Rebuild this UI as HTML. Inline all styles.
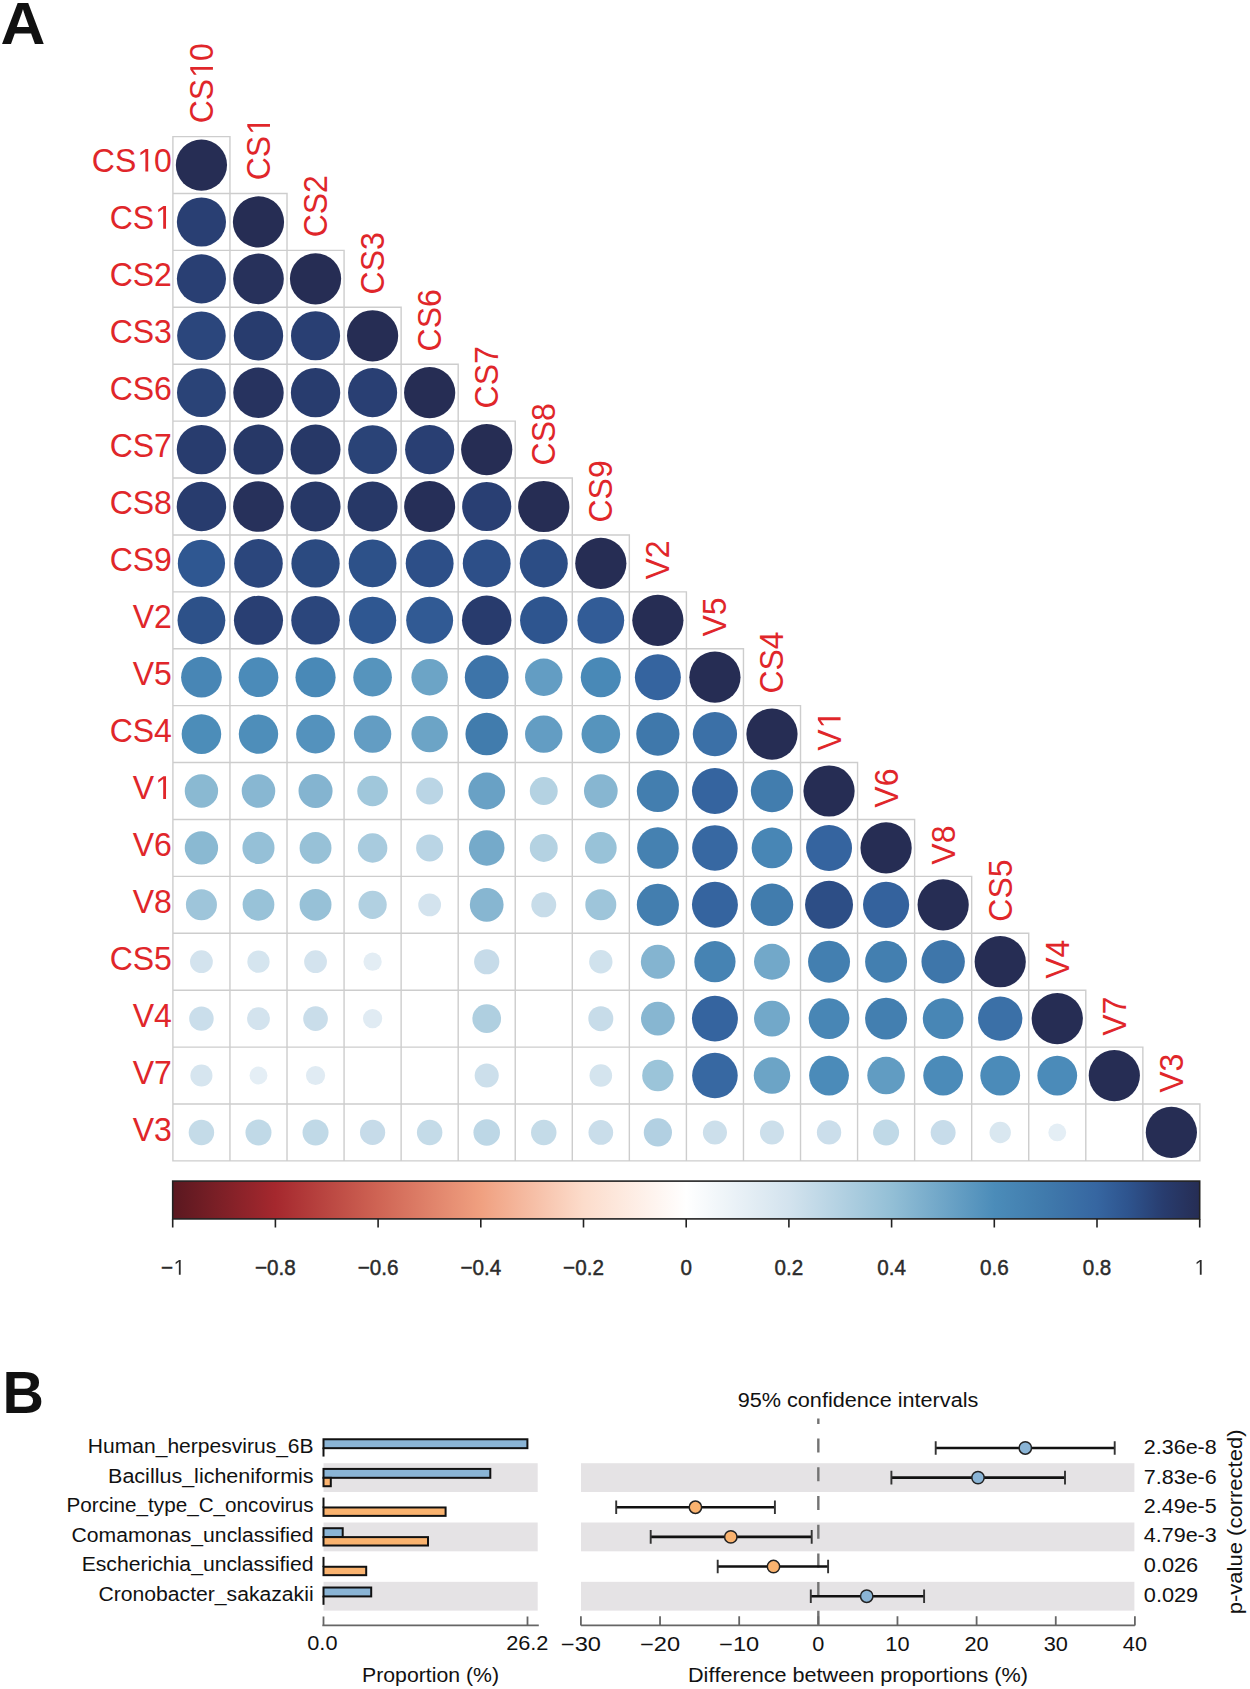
<!DOCTYPE html><html><head><meta charset="utf-8"><style>html,body{margin:0;padding:0;background:#fff;}svg{display:block;}text{font-family:"Liberation Sans",sans-serif;font-kerning:none;}</style></head><body>
<svg width="1250" height="1689" viewBox="0 0 1250 1689">
<rect width="1250" height="1689" fill="#fff"/>
<text transform="translate(0.6,43.7) scale(1.05,1)" x="0" y="0" font-size="59.2" font-weight="bold" fill="#111">A</text>
<text transform="translate(2.6,1412.6) scale(0.97,1)" x="0" y="0" font-size="59.2" font-weight="bold" fill="#111">B</text>
<path d="M172.90 136.60h57.06v56.91h-57.06zM172.90 193.51h57.06v56.91h-57.06zM229.96 193.51h57.06v56.91h-57.06zM172.90 250.41h57.06v56.91h-57.06zM229.96 250.41h57.06v56.91h-57.06zM287.01 250.41h57.06v56.91h-57.06zM172.90 307.32h57.06v56.91h-57.06zM229.96 307.32h57.06v56.91h-57.06zM287.01 307.32h57.06v56.91h-57.06zM344.07 307.32h57.06v56.91h-57.06zM172.90 364.22h57.06v56.91h-57.06zM229.96 364.22h57.06v56.91h-57.06zM287.01 364.22h57.06v56.91h-57.06zM344.07 364.22h57.06v56.91h-57.06zM401.12 364.22h57.06v56.91h-57.06zM172.90 421.13h57.06v56.91h-57.06zM229.96 421.13h57.06v56.91h-57.06zM287.01 421.13h57.06v56.91h-57.06zM344.07 421.13h57.06v56.91h-57.06zM401.12 421.13h57.06v56.91h-57.06zM458.18 421.13h57.06v56.91h-57.06zM172.90 478.03h57.06v56.91h-57.06zM229.96 478.03h57.06v56.91h-57.06zM287.01 478.03h57.06v56.91h-57.06zM344.07 478.03h57.06v56.91h-57.06zM401.12 478.03h57.06v56.91h-57.06zM458.18 478.03h57.06v56.91h-57.06zM515.23 478.03h57.06v56.91h-57.06zM172.90 534.94h57.06v56.91h-57.06zM229.96 534.94h57.06v56.91h-57.06zM287.01 534.94h57.06v56.91h-57.06zM344.07 534.94h57.06v56.91h-57.06zM401.12 534.94h57.06v56.91h-57.06zM458.18 534.94h57.06v56.91h-57.06zM515.23 534.94h57.06v56.91h-57.06zM572.29 534.94h57.06v56.91h-57.06zM172.90 591.84h57.06v56.91h-57.06zM229.96 591.84h57.06v56.91h-57.06zM287.01 591.84h57.06v56.91h-57.06zM344.07 591.84h57.06v56.91h-57.06zM401.12 591.84h57.06v56.91h-57.06zM458.18 591.84h57.06v56.91h-57.06zM515.23 591.84h57.06v56.91h-57.06zM572.29 591.84h57.06v56.91h-57.06zM629.34 591.84h57.06v56.91h-57.06zM172.90 648.75h57.06v56.91h-57.06zM229.96 648.75h57.06v56.91h-57.06zM287.01 648.75h57.06v56.91h-57.06zM344.07 648.75h57.06v56.91h-57.06zM401.12 648.75h57.06v56.91h-57.06zM458.18 648.75h57.06v56.91h-57.06zM515.23 648.75h57.06v56.91h-57.06zM572.29 648.75h57.06v56.91h-57.06zM629.34 648.75h57.06v56.91h-57.06zM686.40 648.75h57.06v56.91h-57.06zM172.90 705.66h57.06v56.91h-57.06zM229.96 705.66h57.06v56.91h-57.06zM287.01 705.66h57.06v56.91h-57.06zM344.07 705.66h57.06v56.91h-57.06zM401.12 705.66h57.06v56.91h-57.06zM458.18 705.66h57.06v56.91h-57.06zM515.23 705.66h57.06v56.91h-57.06zM572.29 705.66h57.06v56.91h-57.06zM629.34 705.66h57.06v56.91h-57.06zM686.40 705.66h57.06v56.91h-57.06zM743.46 705.66h57.06v56.91h-57.06zM172.90 762.56h57.06v56.91h-57.06zM229.96 762.56h57.06v56.91h-57.06zM287.01 762.56h57.06v56.91h-57.06zM344.07 762.56h57.06v56.91h-57.06zM401.12 762.56h57.06v56.91h-57.06zM458.18 762.56h57.06v56.91h-57.06zM515.23 762.56h57.06v56.91h-57.06zM572.29 762.56h57.06v56.91h-57.06zM629.34 762.56h57.06v56.91h-57.06zM686.40 762.56h57.06v56.91h-57.06zM743.46 762.56h57.06v56.91h-57.06zM800.51 762.56h57.06v56.91h-57.06zM172.90 819.47h57.06v56.91h-57.06zM229.96 819.47h57.06v56.91h-57.06zM287.01 819.47h57.06v56.91h-57.06zM344.07 819.47h57.06v56.91h-57.06zM401.12 819.47h57.06v56.91h-57.06zM458.18 819.47h57.06v56.91h-57.06zM515.23 819.47h57.06v56.91h-57.06zM572.29 819.47h57.06v56.91h-57.06zM629.34 819.47h57.06v56.91h-57.06zM686.40 819.47h57.06v56.91h-57.06zM743.46 819.47h57.06v56.91h-57.06zM800.51 819.47h57.06v56.91h-57.06zM857.57 819.47h57.06v56.91h-57.06zM172.90 876.37h57.06v56.91h-57.06zM229.96 876.37h57.06v56.91h-57.06zM287.01 876.37h57.06v56.91h-57.06zM344.07 876.37h57.06v56.91h-57.06zM401.12 876.37h57.06v56.91h-57.06zM458.18 876.37h57.06v56.91h-57.06zM515.23 876.37h57.06v56.91h-57.06zM572.29 876.37h57.06v56.91h-57.06zM629.34 876.37h57.06v56.91h-57.06zM686.40 876.37h57.06v56.91h-57.06zM743.46 876.37h57.06v56.91h-57.06zM800.51 876.37h57.06v56.91h-57.06zM857.57 876.37h57.06v56.91h-57.06zM914.62 876.37h57.06v56.91h-57.06zM172.90 933.28h57.06v56.91h-57.06zM229.96 933.28h57.06v56.91h-57.06zM287.01 933.28h57.06v56.91h-57.06zM344.07 933.28h57.06v56.91h-57.06zM401.12 933.28h57.06v56.91h-57.06zM458.18 933.28h57.06v56.91h-57.06zM515.23 933.28h57.06v56.91h-57.06zM572.29 933.28h57.06v56.91h-57.06zM629.34 933.28h57.06v56.91h-57.06zM686.40 933.28h57.06v56.91h-57.06zM743.46 933.28h57.06v56.91h-57.06zM800.51 933.28h57.06v56.91h-57.06zM857.57 933.28h57.06v56.91h-57.06zM914.62 933.28h57.06v56.91h-57.06zM971.68 933.28h57.06v56.91h-57.06zM172.90 990.18h57.06v56.91h-57.06zM229.96 990.18h57.06v56.91h-57.06zM287.01 990.18h57.06v56.91h-57.06zM344.07 990.18h57.06v56.91h-57.06zM401.12 990.18h57.06v56.91h-57.06zM458.18 990.18h57.06v56.91h-57.06zM515.23 990.18h57.06v56.91h-57.06zM572.29 990.18h57.06v56.91h-57.06zM629.34 990.18h57.06v56.91h-57.06zM686.40 990.18h57.06v56.91h-57.06zM743.46 990.18h57.06v56.91h-57.06zM800.51 990.18h57.06v56.91h-57.06zM857.57 990.18h57.06v56.91h-57.06zM914.62 990.18h57.06v56.91h-57.06zM971.68 990.18h57.06v56.91h-57.06zM1028.73 990.18h57.06v56.91h-57.06zM172.90 1047.09h57.06v56.91h-57.06zM229.96 1047.09h57.06v56.91h-57.06zM287.01 1047.09h57.06v56.91h-57.06zM344.07 1047.09h57.06v56.91h-57.06zM401.12 1047.09h57.06v56.91h-57.06zM458.18 1047.09h57.06v56.91h-57.06zM515.23 1047.09h57.06v56.91h-57.06zM572.29 1047.09h57.06v56.91h-57.06zM629.34 1047.09h57.06v56.91h-57.06zM686.40 1047.09h57.06v56.91h-57.06zM743.46 1047.09h57.06v56.91h-57.06zM800.51 1047.09h57.06v56.91h-57.06zM857.57 1047.09h57.06v56.91h-57.06zM914.62 1047.09h57.06v56.91h-57.06zM971.68 1047.09h57.06v56.91h-57.06zM1028.73 1047.09h57.06v56.91h-57.06zM1085.79 1047.09h57.06v56.91h-57.06zM172.90 1103.99h57.06v56.91h-57.06zM229.96 1103.99h57.06v56.91h-57.06zM287.01 1103.99h57.06v56.91h-57.06zM344.07 1103.99h57.06v56.91h-57.06zM401.12 1103.99h57.06v56.91h-57.06zM458.18 1103.99h57.06v56.91h-57.06zM515.23 1103.99h57.06v56.91h-57.06zM572.29 1103.99h57.06v56.91h-57.06zM629.34 1103.99h57.06v56.91h-57.06zM686.40 1103.99h57.06v56.91h-57.06zM743.46 1103.99h57.06v56.91h-57.06zM800.51 1103.99h57.06v56.91h-57.06zM857.57 1103.99h57.06v56.91h-57.06zM914.62 1103.99h57.06v56.91h-57.06zM971.68 1103.99h57.06v56.91h-57.06zM1028.73 1103.99h57.06v56.91h-57.06zM1085.79 1103.99h57.06v56.91h-57.06zM1142.84 1103.99h57.06v56.91h-57.06z" fill="none" stroke="#cdcdcd" stroke-width="1.4"/>
<circle cx="201.43" cy="165.05" r="25.61" fill="#262d54"/>
<circle cx="201.43" cy="221.96" r="24.56" fill="#293f73"/>
<circle cx="258.48" cy="221.96" r="25.61" fill="#262d54"/>
<circle cx="201.43" cy="278.86" r="24.56" fill="#293f73"/>
<circle cx="258.48" cy="278.86" r="25.35" fill="#27315b"/>
<circle cx="315.54" cy="278.86" r="25.61" fill="#262d54"/>
<circle cx="201.43" cy="335.77" r="24.29" fill="#2b467c"/>
<circle cx="258.48" cy="335.77" r="24.69" fill="#283c6e"/>
<circle cx="315.54" cy="335.77" r="24.56" fill="#293f73"/>
<circle cx="372.59" cy="335.77" r="25.61" fill="#262d54"/>
<circle cx="201.43" cy="392.68" r="24.43" fill="#2a4377"/>
<circle cx="258.48" cy="392.68" r="25.22" fill="#27335f"/>
<circle cx="315.54" cy="392.68" r="24.69" fill="#283c6e"/>
<circle cx="372.59" cy="392.68" r="24.56" fill="#293f73"/>
<circle cx="429.65" cy="392.68" r="25.61" fill="#262d54"/>
<circle cx="201.43" cy="449.58" r="24.69" fill="#283c6e"/>
<circle cx="258.48" cy="449.58" r="24.96" fill="#273867"/>
<circle cx="315.54" cy="449.58" r="24.96" fill="#273867"/>
<circle cx="372.59" cy="449.58" r="24.43" fill="#2a4377"/>
<circle cx="429.65" cy="449.58" r="24.56" fill="#293f73"/>
<circle cx="486.71" cy="449.58" r="25.61" fill="#262d54"/>
<circle cx="201.43" cy="506.49" r="24.69" fill="#283c6e"/>
<circle cx="258.48" cy="506.49" r="25.35" fill="#27315b"/>
<circle cx="315.54" cy="506.49" r="24.96" fill="#273867"/>
<circle cx="372.59" cy="506.49" r="24.96" fill="#273867"/>
<circle cx="429.65" cy="506.49" r="25.48" fill="#262f58"/>
<circle cx="486.71" cy="506.49" r="24.56" fill="#293f73"/>
<circle cx="543.76" cy="506.49" r="25.61" fill="#262d54"/>
<circle cx="201.43" cy="563.39" r="23.61" fill="#2f5791"/>
<circle cx="258.48" cy="563.39" r="24.29" fill="#2b467c"/>
<circle cx="315.54" cy="563.39" r="24.16" fill="#2b4a80"/>
<circle cx="372.59" cy="563.39" r="23.89" fill="#2d5189"/>
<circle cx="429.65" cy="563.39" r="23.94" fill="#2d4f88"/>
<circle cx="486.71" cy="563.39" r="23.94" fill="#2d4f88"/>
<circle cx="543.76" cy="563.39" r="24.02" fill="#2c4d85"/>
<circle cx="600.82" cy="563.39" r="25.61" fill="#262d54"/>
<circle cx="201.43" cy="620.30" r="23.89" fill="#2d5189"/>
<circle cx="258.48" cy="620.30" r="24.56" fill="#293f73"/>
<circle cx="315.54" cy="620.30" r="24.29" fill="#2b467c"/>
<circle cx="372.59" cy="620.30" r="23.61" fill="#2f5791"/>
<circle cx="429.65" cy="620.30" r="23.47" fill="#315a94"/>
<circle cx="486.71" cy="620.30" r="24.73" fill="#283b6d"/>
<circle cx="543.76" cy="620.30" r="23.72" fill="#2e558f"/>
<circle cx="600.82" cy="620.30" r="23.37" fill="#325c97"/>
<circle cx="657.87" cy="620.30" r="25.61" fill="#262d54"/>
<circle cx="201.43" cy="677.20" r="20.34" fill="#4886b5"/>
<circle cx="258.48" cy="677.20" r="19.89" fill="#4b8bb9"/>
<circle cx="315.54" cy="677.20" r="20.07" fill="#4989b7"/>
<circle cx="372.59" cy="677.20" r="19.33" fill="#5694bd"/>
<circle cx="429.65" cy="677.20" r="18.23" fill="#6ca4c6"/>
<circle cx="486.71" cy="677.20" r="21.89" fill="#3d74a9"/>
<circle cx="543.76" cy="677.20" r="18.70" fill="#639dc3"/>
<circle cx="600.82" cy="677.20" r="20.07" fill="#4989b7"/>
<circle cx="657.87" cy="677.20" r="22.98" fill="#35649f"/>
<circle cx="714.93" cy="677.20" r="25.61" fill="#262d54"/>
<circle cx="201.43" cy="734.11" r="19.79" fill="#4c8db9"/>
<circle cx="258.48" cy="734.11" r="19.70" fill="#4e8eba"/>
<circle cx="315.54" cy="734.11" r="19.42" fill="#5492bd"/>
<circle cx="372.59" cy="734.11" r="18.70" fill="#639dc3"/>
<circle cx="429.65" cy="734.11" r="18.23" fill="#6ca4c6"/>
<circle cx="486.71" cy="734.11" r="21.26" fill="#417cad"/>
<circle cx="543.76" cy="734.11" r="18.70" fill="#639dc3"/>
<circle cx="600.82" cy="734.11" r="19.33" fill="#5694bd"/>
<circle cx="657.87" cy="734.11" r="21.61" fill="#3f78ab"/>
<circle cx="714.93" cy="734.11" r="22.16" fill="#3b70a7"/>
<circle cx="771.98" cy="734.11" r="25.61" fill="#262d54"/>
<circle cx="201.43" cy="791.01" r="16.69" fill="#8ab9d2"/>
<circle cx="258.48" cy="791.01" r="16.79" fill="#88b7d2"/>
<circle cx="315.54" cy="791.01" r="17.04" fill="#84b4d0"/>
<circle cx="372.59" cy="791.01" r="15.32" fill="#a0c7db"/>
<circle cx="429.65" cy="791.01" r="13.50" fill="#bad5e5"/>
<circle cx="486.71" cy="791.01" r="18.41" fill="#69a1c5"/>
<circle cx="543.76" cy="791.01" r="13.96" fill="#b4d2e2"/>
<circle cx="600.82" cy="791.01" r="16.87" fill="#87b6d1"/>
<circle cx="657.87" cy="791.01" r="21.07" fill="#437eaf"/>
<circle cx="714.93" cy="791.01" r="22.98" fill="#35649f"/>
<circle cx="771.98" cy="791.01" r="21.16" fill="#427dae"/>
<circle cx="829.04" cy="791.01" r="25.61" fill="#262d54"/>
<circle cx="201.43" cy="847.92" r="16.69" fill="#8ab9d2"/>
<circle cx="258.48" cy="847.92" r="16.05" fill="#95c0d7"/>
<circle cx="315.54" cy="847.92" r="15.95" fill="#97c1d7"/>
<circle cx="372.59" cy="847.92" r="14.78" fill="#a8cbde"/>
<circle cx="429.65" cy="847.92" r="13.50" fill="#bad5e5"/>
<circle cx="486.71" cy="847.92" r="17.78" fill="#75aaca"/>
<circle cx="543.76" cy="847.92" r="13.96" fill="#b4d2e2"/>
<circle cx="600.82" cy="847.92" r="15.87" fill="#98c2d8"/>
<circle cx="657.87" cy="847.92" r="20.79" fill="#4581b1"/>
<circle cx="714.93" cy="847.92" r="22.79" fill="#3768a2"/>
<circle cx="771.98" cy="847.92" r="20.34" fill="#4886b5"/>
<circle cx="829.04" cy="847.92" r="22.98" fill="#35649f"/>
<circle cx="886.09" cy="847.92" r="25.61" fill="#262d54"/>
<circle cx="201.43" cy="904.83" r="15.51" fill="#9ec5da"/>
<circle cx="258.48" cy="904.83" r="15.87" fill="#98c2d8"/>
<circle cx="315.54" cy="904.83" r="15.95" fill="#97c1d7"/>
<circle cx="372.59" cy="904.83" r="14.14" fill="#b1d0e1"/>
<circle cx="429.65" cy="904.83" r="11.39" fill="#d3e3ee"/>
<circle cx="486.71" cy="904.83" r="16.87" fill="#87b6d1"/>
<circle cx="543.76" cy="904.83" r="12.49" fill="#c7dce9"/>
<circle cx="600.82" cy="904.83" r="15.51" fill="#9ec5da"/>
<circle cx="657.87" cy="904.83" r="21.07" fill="#437eaf"/>
<circle cx="714.93" cy="904.83" r="22.98" fill="#35649f"/>
<circle cx="771.98" cy="904.83" r="21.26" fill="#417cad"/>
<circle cx="829.04" cy="904.83" r="23.98" fill="#2d4e86"/>
<circle cx="886.09" cy="904.83" r="23.08" fill="#34629d"/>
<circle cx="943.15" cy="904.83" r="25.61" fill="#262d54"/>
<circle cx="201.43" cy="961.73" r="11.39" fill="#d3e3ee"/>
<circle cx="258.48" cy="961.73" r="11.13" fill="#d5e5ef"/>
<circle cx="315.54" cy="961.73" r="11.39" fill="#d3e3ee"/>
<circle cx="372.59" cy="961.73" r="9.13" fill="#e3edf4"/>
<circle cx="486.71" cy="961.73" r="12.60" fill="#c6dbe9"/>
<circle cx="600.82" cy="961.73" r="11.68" fill="#d0e2ed"/>
<circle cx="657.87" cy="961.73" r="17.04" fill="#84b4d0"/>
<circle cx="714.93" cy="961.73" r="20.61" fill="#4683b3"/>
<circle cx="771.98" cy="961.73" r="17.96" fill="#72a8c9"/>
<circle cx="829.04" cy="961.73" r="20.98" fill="#437fb0"/>
<circle cx="886.09" cy="961.73" r="20.98" fill="#437fb0"/>
<circle cx="943.15" cy="961.73" r="21.70" fill="#3e76aa"/>
<circle cx="1000.21" cy="961.73" r="25.61" fill="#262d54"/>
<circle cx="201.43" cy="1018.64" r="12.23" fill="#cadeeb"/>
<circle cx="258.48" cy="1018.64" r="11.39" fill="#d3e3ee"/>
<circle cx="315.54" cy="1018.64" r="12.31" fill="#c9ddea"/>
<circle cx="372.59" cy="1018.64" r="9.58" fill="#e0ebf3"/>
<circle cx="486.71" cy="1018.64" r="14.33" fill="#afcfe0"/>
<circle cx="600.82" cy="1018.64" r="12.49" fill="#c7dce9"/>
<circle cx="657.87" cy="1018.64" r="16.87" fill="#87b6d1"/>
<circle cx="714.93" cy="1018.64" r="22.98" fill="#35649f"/>
<circle cx="771.98" cy="1018.64" r="17.96" fill="#72a8c9"/>
<circle cx="829.04" cy="1018.64" r="20.34" fill="#4886b5"/>
<circle cx="886.09" cy="1018.64" r="20.98" fill="#437fb0"/>
<circle cx="943.15" cy="1018.64" r="20.34" fill="#4886b5"/>
<circle cx="1000.21" cy="1018.64" r="22.16" fill="#3b70a7"/>
<circle cx="1057.26" cy="1018.64" r="25.61" fill="#262d54"/>
<circle cx="201.43" cy="1075.54" r="11.04" fill="#d6e5ef"/>
<circle cx="258.48" cy="1075.54" r="8.94" fill="#e4eef5"/>
<circle cx="315.54" cy="1075.54" r="9.58" fill="#e0ebf3"/>
<circle cx="486.71" cy="1075.54" r="12.04" fill="#ccdfeb"/>
<circle cx="600.82" cy="1075.54" r="11.31" fill="#d4e4ee"/>
<circle cx="657.87" cy="1075.54" r="15.68" fill="#9bc4d9"/>
<circle cx="714.93" cy="1075.54" r="22.79" fill="#3768a2"/>
<circle cx="771.98" cy="1075.54" r="18.23" fill="#6ca4c6"/>
<circle cx="829.04" cy="1075.54" r="19.89" fill="#4b8bb9"/>
<circle cx="886.09" cy="1075.54" r="18.78" fill="#619cc2"/>
<circle cx="943.15" cy="1075.54" r="19.89" fill="#4b8bb9"/>
<circle cx="1000.21" cy="1075.54" r="19.89" fill="#4b8bb9"/>
<circle cx="1057.26" cy="1075.54" r="19.89" fill="#4b8bb9"/>
<circle cx="1114.32" cy="1075.54" r="25.61" fill="#262d54"/>
<circle cx="201.43" cy="1132.45" r="12.73" fill="#c4dbe8"/>
<circle cx="258.48" cy="1132.45" r="13.01" fill="#c0d9e7"/>
<circle cx="315.54" cy="1132.45" r="13.01" fill="#c0d9e7"/>
<circle cx="372.59" cy="1132.45" r="12.60" fill="#c6dbe9"/>
<circle cx="429.65" cy="1132.45" r="12.73" fill="#c4dbe8"/>
<circle cx="486.71" cy="1132.45" r="13.28" fill="#bdd7e6"/>
<circle cx="543.76" cy="1132.45" r="12.73" fill="#c4dbe8"/>
<circle cx="600.82" cy="1132.45" r="12.33" fill="#c9ddea"/>
<circle cx="657.87" cy="1132.45" r="14.10" fill="#b2d0e2"/>
<circle cx="714.93" cy="1132.45" r="12.04" fill="#ccdfeb"/>
<circle cx="771.98" cy="1132.45" r="12.04" fill="#ccdfeb"/>
<circle cx="829.04" cy="1132.45" r="12.17" fill="#cbdeeb"/>
<circle cx="886.09" cy="1132.45" r="13.01" fill="#c0d9e7"/>
<circle cx="943.15" cy="1132.45" r="12.47" fill="#c7dcea"/>
<circle cx="1000.21" cy="1132.45" r="10.68" fill="#d9e7f0"/>
<circle cx="1057.26" cy="1132.45" r="8.91" fill="#e4eef5"/>
<circle cx="1171.37" cy="1132.45" r="25.61" fill="#262d54"/>
<g transform="translate(171.9,171.60) scale(0.97,1)"><text x="-82.55" y="0.00" font-size="33" fill="#e0262a">CS</text><path transform="translate(-36.71,0.00) scale(0.01611,-0.01611)" d="M582 0V1237L264 1010V1180L597 1409H763V0Z" fill="#e0262a"/><text x="-18.35" y="0.00" font-size="33" fill="#e0262a">0</text></g>
<g transform="translate(212.93,123.30) rotate(-90) scale(0.97,1)"><text x="0.00" y="0.00" font-size="33" fill="#e0262a">CS</text><path transform="translate(45.84,0.00) scale(0.01611,-0.01611)" d="M582 0V1237L264 1010V1180L597 1409H763V0Z" fill="#e0262a"/><text x="64.20" y="0.00" font-size="33" fill="#e0262a">0</text></g>
<g transform="translate(171.9,228.63) scale(0.97,1)"><text x="-64.20" y="0.00" font-size="33" fill="#e0262a">CS</text><path transform="translate(-18.35,0.00) scale(0.01611,-0.01611)" d="M582 0V1237L264 1010V1180L597 1409H763V0Z" fill="#e0262a"/></g>
<g transform="translate(269.98,180.33) rotate(-90) scale(0.97,1)"><text x="0.00" y="0.00" font-size="33" fill="#e0262a">CS</text><path transform="translate(45.84,0.00) scale(0.01611,-0.01611)" d="M582 0V1237L264 1010V1180L597 1409H763V0Z" fill="#e0262a"/></g>
<g transform="translate(171.9,285.66) scale(0.97,1)"><text x="-64.20" y="0.00" font-size="33" fill="#e0262a">CS2</text></g>
<g transform="translate(327.04,237.36) rotate(-90) scale(0.97,1)"><text x="0.00" y="0.00" font-size="33" fill="#e0262a">CS2</text></g>
<g transform="translate(171.9,342.69) scale(0.97,1)"><text x="-64.20" y="0.00" font-size="33" fill="#e0262a">CS3</text></g>
<g transform="translate(384.09,294.39) rotate(-90) scale(0.97,1)"><text x="0.00" y="0.00" font-size="33" fill="#e0262a">CS3</text></g>
<g transform="translate(171.9,399.72) scale(0.97,1)"><text x="-64.20" y="0.00" font-size="33" fill="#e0262a">CS6</text></g>
<g transform="translate(441.15,351.42) rotate(-90) scale(0.97,1)"><text x="0.00" y="0.00" font-size="33" fill="#e0262a">CS6</text></g>
<g transform="translate(171.9,456.75) scale(0.97,1)"><text x="-64.20" y="0.00" font-size="33" fill="#e0262a">CS7</text></g>
<g transform="translate(498.21,408.45) rotate(-90) scale(0.97,1)"><text x="0.00" y="0.00" font-size="33" fill="#e0262a">CS7</text></g>
<g transform="translate(171.9,513.78) scale(0.97,1)"><text x="-64.20" y="0.00" font-size="33" fill="#e0262a">CS8</text></g>
<g transform="translate(555.26,465.48) rotate(-90) scale(0.97,1)"><text x="0.00" y="0.00" font-size="33" fill="#e0262a">CS8</text></g>
<g transform="translate(171.9,570.81) scale(0.97,1)"><text x="-64.20" y="0.00" font-size="33" fill="#e0262a">CS9</text></g>
<g transform="translate(612.32,522.51) rotate(-90) scale(0.97,1)"><text x="0.00" y="0.00" font-size="33" fill="#e0262a">CS9</text></g>
<g transform="translate(171.9,627.84) scale(0.97,1)"><text x="-40.36" y="0.00" font-size="33" fill="#e0262a">V2</text></g>
<g transform="translate(669.37,579.54) rotate(-90) scale(0.97,1)"><text x="0.00" y="0.00" font-size="33" fill="#e0262a">V2</text></g>
<g transform="translate(171.9,684.87) scale(0.97,1)"><text x="-40.36" y="0.00" font-size="33" fill="#e0262a">V5</text></g>
<g transform="translate(726.43,636.57) rotate(-90) scale(0.97,1)"><text x="0.00" y="0.00" font-size="33" fill="#e0262a">V5</text></g>
<g transform="translate(171.9,741.90) scale(0.97,1)"><text x="-64.20" y="0.00" font-size="33" fill="#e0262a">CS4</text></g>
<g transform="translate(783.48,693.60) rotate(-90) scale(0.97,1)"><text x="0.00" y="0.00" font-size="33" fill="#e0262a">CS4</text></g>
<g transform="translate(171.9,798.93) scale(0.97,1)"><text x="-40.36" y="0.00" font-size="33" fill="#e0262a">V</text><path transform="translate(-18.35,0.00) scale(0.01611,-0.01611)" d="M582 0V1237L264 1010V1180L597 1409H763V0Z" fill="#e0262a"/></g>
<g transform="translate(840.54,750.63) rotate(-90) scale(0.97,1)"><text x="0.00" y="0.00" font-size="33" fill="#e0262a">V</text><path transform="translate(22.01,0.00) scale(0.01611,-0.01611)" d="M582 0V1237L264 1010V1180L597 1409H763V0Z" fill="#e0262a"/></g>
<g transform="translate(171.9,855.96) scale(0.97,1)"><text x="-40.36" y="0.00" font-size="33" fill="#e0262a">V6</text></g>
<g transform="translate(897.59,807.66) rotate(-90) scale(0.97,1)"><text x="0.00" y="0.00" font-size="33" fill="#e0262a">V6</text></g>
<g transform="translate(171.9,912.99) scale(0.97,1)"><text x="-40.36" y="0.00" font-size="33" fill="#e0262a">V8</text></g>
<g transform="translate(954.65,864.69) rotate(-90) scale(0.97,1)"><text x="0.00" y="0.00" font-size="33" fill="#e0262a">V8</text></g>
<g transform="translate(171.9,970.02) scale(0.97,1)"><text x="-64.20" y="0.00" font-size="33" fill="#e0262a">CS5</text></g>
<g transform="translate(1011.71,921.72) rotate(-90) scale(0.97,1)"><text x="0.00" y="0.00" font-size="33" fill="#e0262a">CS5</text></g>
<g transform="translate(171.9,1027.05) scale(0.97,1)"><text x="-40.36" y="0.00" font-size="33" fill="#e0262a">V4</text></g>
<g transform="translate(1068.76,978.75) rotate(-90) scale(0.97,1)"><text x="0.00" y="0.00" font-size="33" fill="#e0262a">V4</text></g>
<g transform="translate(171.9,1084.08) scale(0.97,1)"><text x="-40.36" y="0.00" font-size="33" fill="#e0262a">V7</text></g>
<g transform="translate(1125.82,1035.78) rotate(-90) scale(0.97,1)"><text x="0.00" y="0.00" font-size="33" fill="#e0262a">V7</text></g>
<g transform="translate(171.9,1141.11) scale(0.97,1)"><text x="-40.36" y="0.00" font-size="33" fill="#e0262a">V3</text></g>
<g transform="translate(1182.87,1092.81) rotate(-90) scale(0.97,1)"><text x="0.00" y="0.00" font-size="33" fill="#e0262a">V3</text></g>
<defs><linearGradient id="cb" x1="0" x2="1" y1="0" y2="0"><stop offset="0.00%" stop-color="#5a1820"/><stop offset="10.00%" stop-color="#a5282e"/><stop offset="20.00%" stop-color="#cf6454"/><stop offset="30.00%" stop-color="#f0a080"/><stop offset="40.00%" stop-color="#fcdccb"/><stop offset="50.00%" stop-color="#ffffff"/><stop offset="60.00%" stop-color="#d3e3ee"/><stop offset="70.00%" stop-color="#93bfd6"/><stop offset="80.00%" stop-color="#4b8cb9"/><stop offset="85.00%" stop-color="#407aac"/><stop offset="90.00%" stop-color="#3666a1"/><stop offset="93.00%" stop-color="#2e548e"/><stop offset="96.50%" stop-color="#283c6e"/><stop offset="100.00%" stop-color="#262d54"/></linearGradient></defs>
<rect x="172.7" y="1181.1" width="1027.00" height="37.80" fill="url(#cb)" stroke="#222" stroke-width="1.6"/>
<g transform="translate(172.70,1274.7) scale(0.965,1)" stroke="#2b2b2b" stroke-width="0.45"><text x="-12.20" y="0.00" font-size="21.4" fill="#2b2b2b">−</text><path transform="translate(0.30,0.00) scale(0.01045,-0.01045)" d="M582 0V1237L264 1010V1180L597 1409H763V0Z" fill="#2b2b2b"/></g>
<g transform="translate(275.40,1274.7) scale(0.965,1)" stroke="#2b2b2b" stroke-width="0.45"><text x="-21.12" y="0.00" font-size="21.4" fill="#2b2b2b">−0.8</text></g>
<g transform="translate(378.10,1274.7) scale(0.965,1)" stroke="#2b2b2b" stroke-width="0.45"><text x="-21.12" y="0.00" font-size="21.4" fill="#2b2b2b">−0.6</text></g>
<g transform="translate(480.80,1274.7) scale(0.965,1)" stroke="#2b2b2b" stroke-width="0.45"><text x="-21.12" y="0.00" font-size="21.4" fill="#2b2b2b">−0.4</text></g>
<g transform="translate(583.50,1274.7) scale(0.965,1)" stroke="#2b2b2b" stroke-width="0.45"><text x="-21.12" y="0.00" font-size="21.4" fill="#2b2b2b">−0.2</text></g>
<g transform="translate(686.20,1274.7) scale(0.965,1)" stroke="#2b2b2b" stroke-width="0.45"><text x="-5.95" y="0.00" font-size="21.4" fill="#2b2b2b">0</text></g>
<g transform="translate(788.90,1274.7) scale(0.965,1)" stroke="#2b2b2b" stroke-width="0.45"><text x="-14.87" y="0.00" font-size="21.4" fill="#2b2b2b">0.2</text></g>
<g transform="translate(891.60,1274.7) scale(0.965,1)" stroke="#2b2b2b" stroke-width="0.45"><text x="-14.87" y="0.00" font-size="21.4" fill="#2b2b2b">0.4</text></g>
<g transform="translate(994.30,1274.7) scale(0.965,1)" stroke="#2b2b2b" stroke-width="0.45"><text x="-14.87" y="0.00" font-size="21.4" fill="#2b2b2b">0.6</text></g>
<g transform="translate(1097.00,1274.7) scale(0.965,1)" stroke="#2b2b2b" stroke-width="0.45"><text x="-14.87" y="0.00" font-size="21.4" fill="#2b2b2b">0.8</text></g>
<g transform="translate(1199.70,1274.7) scale(0.965,1)" stroke="#2b2b2b" stroke-width="0.45"><path transform="translate(-5.95,0.00) scale(0.01045,-0.01045)" d="M582 0V1237L264 1010V1180L597 1409H763V0Z" fill="#2b2b2b"/></g>
<path d="M172.70 1218.90V1227.40M275.40 1218.90V1227.40M378.10 1218.90V1227.40M480.80 1218.90V1227.40M583.50 1218.90V1227.40M686.20 1218.90V1227.40M788.90 1218.90V1227.40M891.60 1218.90V1227.40M994.30 1218.90V1227.40M1097.00 1218.90V1227.40M1199.70 1218.90V1227.40" stroke="#222" stroke-width="1.6"/>
<rect x="323.5" y="1463.22" width="214.20" height="28.8" fill="#e5e3e5"/>
<rect x="581" y="1463.22" width="553.40" height="28.8" fill="#e5e3e5"/>
<rect x="323.5" y="1522.52" width="214.20" height="28.8" fill="#e5e3e5"/>
<rect x="581" y="1522.52" width="553.40" height="28.8" fill="#e5e3e5"/>
<rect x="323.5" y="1581.82" width="214.20" height="28.8" fill="#e5e3e5"/>
<rect x="581" y="1581.82" width="553.40" height="28.8" fill="#e5e3e5"/>
<rect x="323.50" y="1439.27" width="203.90" height="8.9" fill="#8ab4d5" stroke="#111" stroke-width="2"/>
<path d="M323.50 1447.47V1456.57" stroke="#111" stroke-width="2"/>
<rect x="323.50" y="1468.92" width="166.80" height="8.9" fill="#8ab4d5" stroke="#111" stroke-width="2"/>
<rect x="323.50" y="1477.82" width="7.30" height="8.4" fill="#fab36f" stroke="#111" stroke-width="2"/>
<path d="M323.50 1497.57V1507.77" stroke="#111" stroke-width="2"/>
<rect x="323.50" y="1507.47" width="122.10" height="8.4" fill="#fab36f" stroke="#111" stroke-width="2"/>
<rect x="323.50" y="1528.22" width="19.20" height="8.9" fill="#8ab4d5" stroke="#111" stroke-width="2"/>
<rect x="323.50" y="1537.12" width="104.50" height="8.4" fill="#fab36f" stroke="#111" stroke-width="2"/>
<path d="M323.50 1556.87V1567.07" stroke="#111" stroke-width="2"/>
<rect x="323.50" y="1566.77" width="42.70" height="8.4" fill="#fab36f" stroke="#111" stroke-width="2"/>
<rect x="323.50" y="1587.52" width="47.70" height="8.9" fill="#8ab4d5" stroke="#111" stroke-width="2"/>
<path d="M323.50 1595.72V1604.82" stroke="#111" stroke-width="2"/>
<text x="87.89" y="1452.70" font-size="19.6" fill="#111" textLength="225.71" lengthAdjust="spacingAndGlyphs">Human_herpesvirus_6B</text>
<text x="108.07" y="1482.50" font-size="19.6" fill="#111" textLength="205.53" lengthAdjust="spacingAndGlyphs">Bacillus_licheniformis</text>
<text x="66.52" y="1512.00" font-size="19.6" fill="#111" textLength="247.08" lengthAdjust="spacingAndGlyphs">Porcine_type_C_oncovirus</text>
<text x="71.49" y="1541.60" font-size="19.6" fill="#111" textLength="242.11" lengthAdjust="spacingAndGlyphs">Comamonas_unclassified</text>
<text x="81.67" y="1571.40" font-size="19.6" fill="#111" textLength="231.93" lengthAdjust="spacingAndGlyphs">Escherichia_unclassified</text>
<text x="98.42" y="1601.00" font-size="19.6" fill="#111" textLength="215.18" lengthAdjust="spacingAndGlyphs">Cronobacter_sakazakii</text>
<path d="M322.3 1625.4H538.8M323.5 1625.4V1616.5M527.5 1625.4V1616.5" stroke="#666" stroke-width="1.8" fill="none"/>
<text x="307.29" y="1650.30" font-size="19.6" fill="#111" textLength="30.22" lengthAdjust="spacingAndGlyphs">0.0</text>
<text x="506.15" y="1650.30" font-size="19.6" fill="#111" textLength="42.30" lengthAdjust="spacingAndGlyphs">26.2</text>
<text x="362.02" y="1681.80" font-size="19.6" fill="#111" textLength="136.95" lengthAdjust="spacingAndGlyphs">Proportion (%)</text>
<line x1="818.33" y1="1418.5" x2="818.33" y2="1625.4" stroke="#737373" stroke-width="2.4" stroke-dasharray="14 14.7" stroke-dashoffset="8.6"/>
<path d="M580.90 1625.4H1134.90M580.90 1625.4V1616.3M660.04 1625.4V1616.3M739.19 1625.4V1616.3M818.33 1625.4V1616.3M897.47 1625.4V1616.3M976.61 1625.4V1616.3M1055.76 1625.4V1616.3M1134.90 1625.4V1616.3" stroke="#666" stroke-width="1.8" fill="none"/>
<text x="560.85" y="1650.50" font-size="19.6" fill="#111" textLength="40.10" lengthAdjust="spacingAndGlyphs">−30</text>
<text x="639.99" y="1650.50" font-size="19.6" fill="#111" textLength="40.10" lengthAdjust="spacingAndGlyphs">−20</text>
<text x="719.14" y="1650.50" font-size="19.6" fill="#111" textLength="40.10" lengthAdjust="spacingAndGlyphs">−10</text>
<text x="812.28" y="1650.50" font-size="19.6" fill="#111" textLength="12.09" lengthAdjust="spacingAndGlyphs">0</text>
<text x="885.38" y="1650.50" font-size="19.6" fill="#111" textLength="24.18" lengthAdjust="spacingAndGlyphs">10</text>
<text x="964.53" y="1650.50" font-size="19.6" fill="#111" textLength="24.18" lengthAdjust="spacingAndGlyphs">20</text>
<text x="1043.67" y="1650.50" font-size="19.6" fill="#111" textLength="24.18" lengthAdjust="spacingAndGlyphs">30</text>
<text x="1122.81" y="1650.50" font-size="19.6" fill="#111" textLength="24.18" lengthAdjust="spacingAndGlyphs">40</text>
<text x="688.01" y="1682.00" font-size="19.6" fill="#111" textLength="339.98" lengthAdjust="spacingAndGlyphs">Difference between proportions (%)</text>
<text x="737.67" y="1406.90" font-size="19.6" fill="#111" textLength="240.65" lengthAdjust="spacingAndGlyphs">95% confidence intervals</text>
<path d="M935.70 1447.97H1114.70" stroke="#111" stroke-width="2.6"/>
<path d="M935.70 1441.17V1454.77M1114.70 1441.17V1454.77" stroke="#333" stroke-width="1.9"/>
<circle cx="1025.30" cy="1447.97" r="6.2" fill="#8ab4d5" stroke="#222" stroke-width="1.5"/>
<path d="M891.40 1477.62H1065.00" stroke="#111" stroke-width="2.6"/>
<path d="M891.40 1470.82V1484.42M1065.00 1470.82V1484.42" stroke="#333" stroke-width="1.9"/>
<circle cx="978.00" cy="1477.62" r="6.2" fill="#8ab4d5" stroke="#222" stroke-width="1.5"/>
<path d="M616.20 1507.27H774.90" stroke="#111" stroke-width="2.6"/>
<path d="M616.20 1500.47V1514.07M774.90 1500.47V1514.07" stroke="#333" stroke-width="1.9"/>
<circle cx="695.40" cy="1507.27" r="6.2" fill="#fab36f" stroke="#222" stroke-width="1.5"/>
<path d="M650.70 1536.92H811.70" stroke="#111" stroke-width="2.6"/>
<path d="M650.70 1530.12V1543.72M811.70 1530.12V1543.72" stroke="#333" stroke-width="1.9"/>
<circle cx="730.80" cy="1536.92" r="6.2" fill="#fab36f" stroke="#222" stroke-width="1.5"/>
<path d="M717.70 1566.57H828.10" stroke="#111" stroke-width="2.6"/>
<path d="M717.70 1559.77V1573.37M828.10 1559.77V1573.37" stroke="#333" stroke-width="1.9"/>
<circle cx="773.50" cy="1566.57" r="6.2" fill="#fab36f" stroke="#222" stroke-width="1.5"/>
<path d="M810.80 1596.22H924.10" stroke="#111" stroke-width="2.6"/>
<path d="M810.80 1589.42V1603.02M924.10 1589.42V1603.02" stroke="#333" stroke-width="1.9"/>
<circle cx="866.70" cy="1596.22" r="6.2" fill="#8ab4d5" stroke="#222" stroke-width="1.5"/>
<text x="1143.80" y="1454.40" font-size="19.6" fill="#111" textLength="72.94" lengthAdjust="spacingAndGlyphs">2.36e-8</text>
<text x="1143.80" y="1483.70" font-size="19.6" fill="#111" textLength="72.94" lengthAdjust="spacingAndGlyphs">7.83e-6</text>
<text x="1143.80" y="1513.30" font-size="19.6" fill="#111" textLength="72.94" lengthAdjust="spacingAndGlyphs">2.49e-5</text>
<text x="1143.80" y="1542.00" font-size="19.6" fill="#111" textLength="72.94" lengthAdjust="spacingAndGlyphs">4.79e-3</text>
<text x="1143.80" y="1572.00" font-size="19.6" fill="#111" textLength="54.39" lengthAdjust="spacingAndGlyphs">0.026</text>
<text x="1143.80" y="1601.80" font-size="19.6" fill="#111" textLength="54.39" lengthAdjust="spacingAndGlyphs">0.029</text>
<g transform="translate(1241.6,1521.9) rotate(-90)"><text x="-92.42" y="0.00" font-size="19.6" fill="#111" textLength="184.85" lengthAdjust="spacingAndGlyphs">p-value (corrected)</text></g>
</svg></body></html>
